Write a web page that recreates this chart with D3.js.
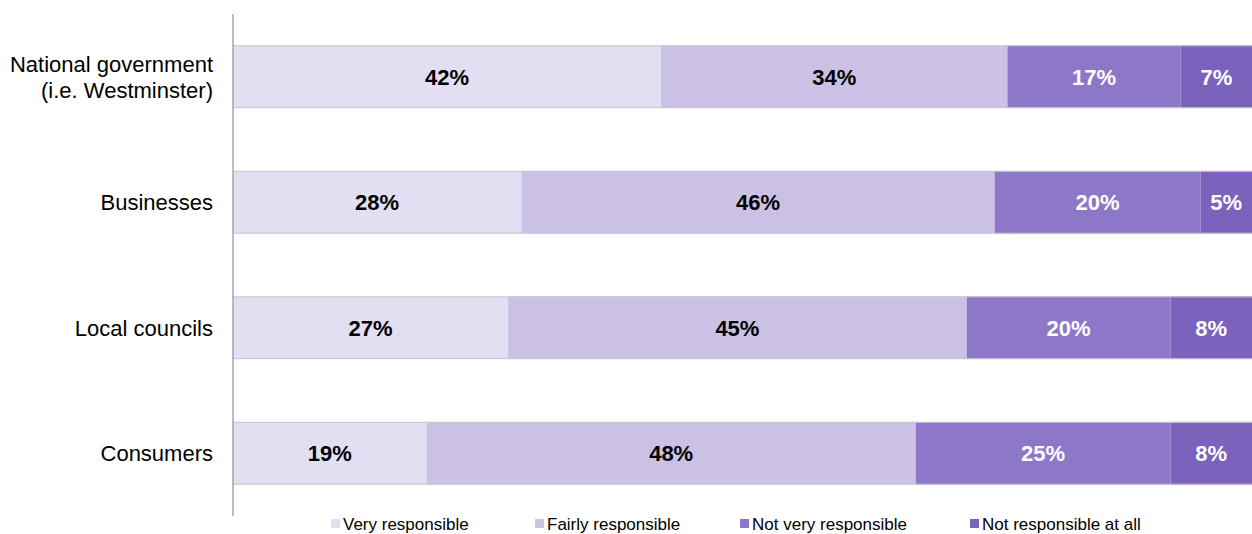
<!DOCTYPE html>
<html>
<head>
<meta charset="utf-8">
<script src="https://cdn.jsdelivr.net/npm/d3@7"></script>
<style>
  html, body { margin: 0; padding: 0; background: #fff; }
  svg { display: block; font-family: "Liberation Sans", Arial, sans-serif; }
</style>
</head>
<body>
<svg id="chart" width="1252" height="534"></svg>
<script>
// Who is responsible: share of respondents per answer
const categories = ["National government\n(i.e. Westminster)", "Businesses", "Local councils", "Consumers"];
const seriesNames = ["Very responsible", "Fairly responsible", "Not very responsible", "Not responsible at all"];
const veryResponsible = [42, 28, 27, 19];
const fairlyResponsible = [34, 46, 45, 48];
const notVeryResponsible = [17, 20, 20, 25];
const notAtAll = [7, 5, 8, 8];

const colors = ["#e3dff3", "#cac1e5", "#8c77c9", "#7a62bd"];
const labelColors = ["#000", "#000", "#fff", "#fff"];

const rows = categories.map((c, i) => ({
  category: c,
  [seriesNames[0]]: veryResponsible[i],
  [seriesNames[1]]: fairlyResponsible[i],
  [seriesNames[2]]: notVeryResponsible[i],
  [seriesNames[3]]: notAtAll[i]
}));

const svg = d3.select("#chart");
const margin = { left: 233, right: 0, top: 14, bottom: 18 };
const W = 1252, H = 534;

const x = d3.scaleLinear().domain([0, 1]).range([margin.left, W - margin.right]);
const y = d3.scaleBand().domain(categories).range([margin.top, H - margin.bottom]).paddingInner(0.5).paddingOuter(0.25);

// each row is normalised so the segments fill the full width
const stacked = d3.stack().keys(seriesNames).offset(d3.stackOffsetExpand)(rows);

const groups = svg.append("g").selectAll("g")
  .data(stacked)
  .join("g");

groups.selectAll("rect")
  .data((s, si) => s.map(d => ({ d, si })))
  .join("rect")
  .attr("x", o => x(o.d[0]))
  .attr("y", o => y(o.d.data.category))
  .attr("width", o => x(o.d[1]) - x(o.d[0]))
  .attr("height", y.bandwidth())
  .attr("fill", o => colors[o.si]);

// thin grey outline along the top and bottom edges of each bar
svg.append("g").selectAll("path")
  .data(categories)
  .join("path")
  .attr("d", c => {
    const y0 = y(c) + 0.5, y1 = y(c) + y.bandwidth() - 0.5;
    return `M${x(0)},${y0}H${x(1)}M${x(0)},${y1}H${x(1)}`;
  })
  .attr("stroke", "#c9c6d0")
  .attr("stroke-width", 1)
  .attr("fill", "none");

// value labels
groups.selectAll("text")
  .data((s, si) => s.map(d => ({ d, si, v: d.data[seriesNames[si]] })))
  .join("text")
  .attr("x", o => (x(o.d[0]) + x(o.d[1])) / 2)
  .attr("y", o => y(o.d.data.category) + y.bandwidth() / 2)
  .attr("dy", "0.36em")
  .attr("text-anchor", "middle")
  .attr("font-size", 22)
  .attr("font-weight", "bold")
  .attr("fill", o => labelColors[o.si])
  .text(o => o.v + "%");

// vertical category axis
const yAxis = svg.append("g")
  .attr("transform", `translate(${margin.left},0)`)
  .call(d3.axisLeft(y).tickSize(0).tickPadding(20).tickFormat(""));
yAxis.select(".domain").attr("stroke", "#a6a6a6").attr("stroke-width", 1.5)
  .attr("d", `M0,${margin.top}V${H - margin.bottom}`);

yAxis.selectAll(".tick").each(function(c) {
  const lines = c.split("\n");
  const t = d3.select(this).append("text")
    .attr("x", -20)
    .attr("text-anchor", "end")
    .attr("fill", "#000")
    .attr("font-size", 22);
  const lh = 26;
  lines.forEach((ln, i) => {
    t.append("tspan")
      .attr("x", -20)
      .attr("y", (i - (lines.length - 1) / 2) * lh)
      .attr("dy", "0.36em")
      .text(ln);
  });
});

// legend
const legendX = [331, 535, 740, 970];
const legend = svg.append("g").selectAll("g")
  .data(seriesNames)
  .join("g")
  .attr("transform", (d, i) => `translate(${legendX[i]},524)`);
legend.append("rect")
  .attr("x", 0).attr("y", -5)
  .attr("width", 9).attr("height", 9)
  .attr("fill", (d, i) => colors[i]);
legend.append("text")
  .attr("x", 12)
  .attr("dy", "0.36em")
  .attr("font-size", 17)
  .attr("fill", "#000")
  .text(d => d);
</script>
</body>
</html>
